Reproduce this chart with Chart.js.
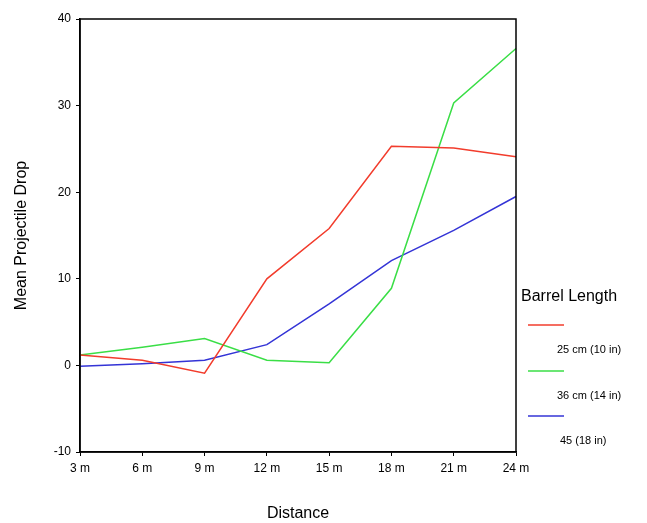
<!DOCTYPE html>
<html>
<head>
<meta charset="utf-8">
<script src="https://cdn.jsdelivr.net/npm/chart.js@4"></script>
<style>
  html, body { margin: 0; padding: 0; background: #fff; }
  #wrap { width: 647px; height: 523px; }
</style>
</head>
<body>
<div id="wrap"><canvas id="chart" width="647" height="523"></canvas></div>
<script>
// distances along the x axis
const distances = ['3 m', '6 m', '9 m', '12 m', '15 m', '18 m', '21 m', '24 m'];

// mean projectile drop per barrel length
const barrel25 = [1.2, 0.6, -0.9, 10.0, 15.8, 25.3, 25.1, 24.1];
const barrel36 = [1.2, 2.1, 3.1, 0.6, 0.3, 8.9, 30.3, 36.6];
const barrel45 = [-0.1, 0.2, 0.6, 2.4, 7.1, 12.1, 15.6, 19.5];

const seriesLabels = ['25 cm (10 in)', '36 cm (14 in)', '45 (18 in)'];
const seriesColors = ['#f23c2c', '#3ade46', '#3434d6'];

const FONT = '"Liberation Sans", Arial, sans-serif';

// box round the plot area (top and right sides too)
const frame = {
  id: 'frame',
  afterDraw(chart) {
    const { ctx, chartArea: a } = chart;
    ctx.save();
    ctx.strokeStyle = '#000';
    ctx.lineWidth = 1.5;
    ctx.strokeRect(a.left, a.top, a.right - a.left, a.bottom - a.top);
    ctx.restore();
  }
};

// legend off to the right, line above its label
const sideLegend = {
  id: 'sideLegend',
  afterDraw(chart) {
    const ctx = chart.ctx;
    ctx.save();
    ctx.fillStyle = '#000';
    ctx.textBaseline = 'middle';
    ctx.font = '16px ' + FONT;
    ctx.fillText('Barrel Length', 521, 297);
    const lineY = [325, 371, 416];
    const textX = [557, 557, 560];
    chart.data.datasets.forEach((ds, i) => {
      ctx.strokeStyle = ds.borderColor;
      ctx.lineWidth = 1.5;
      ctx.beginPath();
      ctx.moveTo(528, lineY[i]);
      ctx.lineTo(564, lineY[i]);
      ctx.stroke();
      ctx.font = '11px ' + FONT;
      ctx.fillText(ds.label, textX[i], lineY[i] + 25);
    });
    ctx.restore();
  }
};

const datasets = [barrel25, barrel36, barrel45].map((vals, i) => ({
  label: seriesLabels[i],
  data: vals,
  borderColor: seriesColors[i],
  backgroundColor: seriesColors[i],
  borderWidth: 1.5,
  pointRadius: 0,
  tension: 0,
  fill: false
}));

new Chart(document.getElementById('chart'), {
  type: 'line',
  data: { labels: distances, datasets },
  options: {
    responsive: false,
    animation: false,
    layout: { padding: { left: 0, top: 19, right: 131, bottom: 0 } },
    plugins: {
      legend: { display: false },
      tooltip: { enabled: false }
    },
    scales: {
      x: {
        offset: false,
        grid: { drawOnChartArea: false, drawTicks: true, tickLength: 4, color: '#000' },
        border: { display: true, color: '#000', width: 1.5 },
        ticks: { color: '#000', font: { family: FONT, size: 12 }, padding: 5, maxRotation: 0, autoSkip: false },
        title: { display: true, text: 'Distance', color: '#000', font: { family: FONT, size: 16 }, padding: { top: 1, bottom: 0 } },
        afterFit(scale) { scale.height = 71; }
      },
      y: {
        min: -10,
        max: 40,
        grid: { drawOnChartArea: false, drawTicks: true, tickLength: 4, color: '#000' },
        border: { display: true, color: '#000', width: 1.5 },
        ticks: { stepSize: 10, color: '#000', font: { family: FONT, size: 12 }, padding: 5 },
        title: { display: true, text: 'Mean Projectile Drop', color: '#000', font: { family: FONT, size: 16 }, padding: { top: 12, bottom: 0 } },
        afterFit(scale) { scale.width = 80; }
      }
    }
  },
  plugins: [frame, sideLegend]
});
</script>
</body>
</html>
